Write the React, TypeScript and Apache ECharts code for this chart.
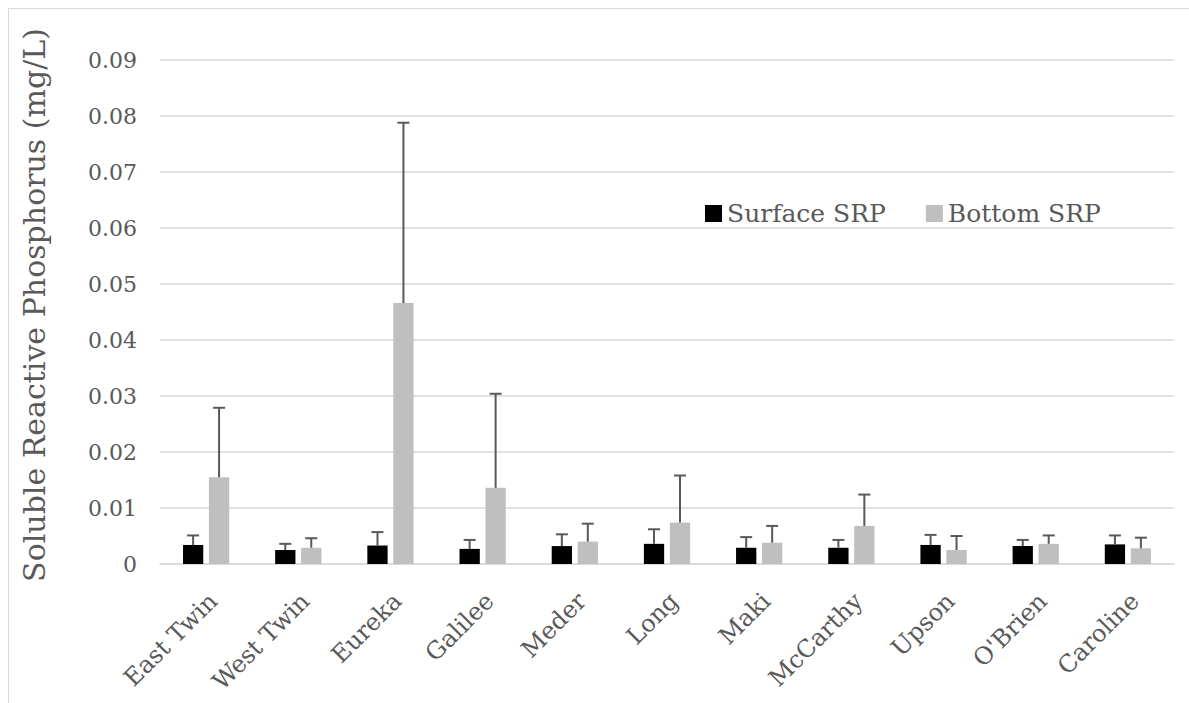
import React, { useEffect, useRef } from "react";
import * as echarts from "echarts";

const categories = ["East Twin", "West Twin", "Eureka", "Galilee", "Meder", "Long", "Maki", "McCarthy", "Upson", "O'Brien", "Caroline"];
const surfaceSRP = [0.0034, 0.0025, 0.0033, 0.0027, 0.0032, 0.0036, 0.0029, 0.0029, 0.0034, 0.0032, 0.0035];
const surfaceErr = [0.0017, 0.0011, 0.0024, 0.0016, 0.0021, 0.0026, 0.0019, 0.0014, 0.0018, 0.0011, 0.0016];
const bottomSRP = [0.0155, 0.0029, 0.0466, 0.0136, 0.004, 0.0074, 0.0038, 0.0068, 0.0025, 0.0036, 0.0028];
const bottomErr = [0.0124, 0.0017, 0.0322, 0.0168, 0.0032, 0.0084, 0.003, 0.0056, 0.0025, 0.0015, 0.0019];
const yTicks = [0, 0.01, 0.02, 0.03, 0.04, 0.05, 0.06, 0.07, 0.08, 0.09];

const FONT = "DejaVu Serif";
const TEXT = "#595959";
const GRID = "#d9d9d9";
const BAR_W = 0.22;
const BAR_GAP = 0.28;

function errorSeries(values: number[], errs: number[], sign: number) {
  return {
    type: "custom",
    z: 5,
    silent: true,
    data: values.map((v, i) => [i, v, errs[i]]),
    encode: { x: 0, y: 1 },
    renderItem: (params: any, api: any) => {
      const i = api.value(0);
      const v = api.value(1);
      const e = api.value(2);
      const band = api.size([1, 0])[0];
      const off = sign * band * BAR_W * (1 + BAR_GAP) / 2;
      const base = api.coord([i, v]);
      const top = api.coord([i, v + e]);
      const x = base[0] + off;
      const style = { stroke: "#595959", lineWidth: 2 };
      return {
        type: "group",
        children: [
          { type: "line", shape: { x1: x, y1: base[1], x2: x, y2: top[1] }, style },
          { type: "line", shape: { x1: x - 6, y1: top[1], x2: x + 6, y2: top[1] }, style },
        ],
      };
    },
  };
}

export default function App() {
  const ref = useRef<HTMLDivElement>(null);
  useEffect(() => {
    document.body.style.margin = "0";
    const chart = echarts.init(ref.current!, null, { renderer: "svg" });
    chart.setOption({
      animation: false,
      backgroundColor: "#ffffff",
      textStyle: { fontFamily: FONT, color: TEXT },
      graphic: [
        {
          type: "rect",
          shape: { x: 8.5, y: 8.5, width: 1300, height: 800 },
          style: { fill: "none", stroke: GRID, lineWidth: 1 },
          z: -10,
        },
      ],
      legend: {
        data: ["Surface SRP", "Bottom SRP"],
        left: 700,
        top: 196,
        itemWidth: 17,
        itemHeight: 17,
        itemGap: 40,
        icon: "rect",
        textStyle: { fontFamily: FONT, fontSize: 25, color: TEXT },
      },
      grid: { left: 160, right: 15, top: 60, bottom: 139 },
      xAxis: {
        type: "category",
        data: categories,
        axisLine: { lineStyle: { color: GRID, width: 1.5 } },
        axisTick: { show: false },
        axisLabel: {
          rotate: 45,
          interval: 0,
          margin: 26,
          verticalAlign: "top",
          lineHeight: 20,
          fontFamily: FONT,
          fontSize: 24,
          color: TEXT,
        },
      },
      yAxis: {
        type: "value",
        min: 0,
        max: 0.09,
        interval: 0.01,
        name: "Soluble Reactive Phosphorus (mg/L)",
        nameLocation: "middle",
        nameGap: 111,
        nameRotate: 90,
        nameTextStyle: { fontFamily: FONT, fontSize: 30, color: TEXT, padding: [0, 0, 0, 14] },
        axisLine: { show: false },
        axisTick: { show: false },
        splitLine: { lineStyle: { color: GRID, width: 1.5 } },
        axisLabel: {
          margin: 23,
          fontFamily: FONT,
          fontSize: 22,
          color: TEXT,
          formatter: (v: number) => {
            const t = yTicks.find((x) => Math.abs(x - v) < 1e-9);
            const val = t === undefined ? v : t;
            return val === 0 ? "0" : val.toFixed(2);
          },
        },
      },
      series: [
        {
          name: "Surface SRP",
          type: "bar",
          data: surfaceSRP,
          barWidth: BAR_W * 100 + "%",
          barGap: BAR_GAP * 100 + "%",
          itemStyle: { color: "#000000" },
        },
        {
          name: "Bottom SRP",
          type: "bar",
          data: bottomSRP,
          barWidth: BAR_W * 100 + "%",
          barGap: BAR_GAP * 100 + "%",
          itemStyle: { color: "#bfbfbf" },
        },
        errorSeries(surfaceSRP, surfaceErr, -1),
        errorSeries(bottomSRP, bottomErr, 1),
      ],
    });
    return () => chart.dispose();
  }, []);
  return <div ref={ref} style={{ width: 1189, height: 703 }} />;
}
